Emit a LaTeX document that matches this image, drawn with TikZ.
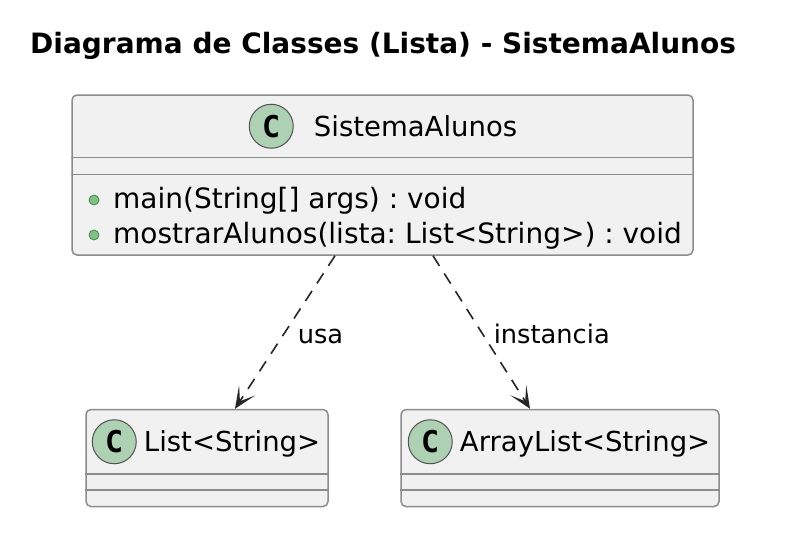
\documentclass[tikz,border=0pt]{standalone}
\usepackage{fontspec}
\setmainfont{DejaVu Sans}
\newfontfamily\badgefont{DejaVu Sans Mono}
\usetikzlibrary{positioning}
\usetikzlibrary{arrows.meta}
\definecolor{BoxFill}{HTML}{F1F1F1}
\definecolor{BoxLine}{HTML}{8C8C8C}
\definecolor{Badge}{HTML}{ADD1B2}
\definecolor{Dot}{HTML}{84BE84}
\definecolor{DotLine}{HTML}{3C8C4C}
\colorlet{Ink}{black!85}
\frenchspacing

\begin{document}
\begin{tikzpicture}[x=1pt, y=-1pt,
    classbox/.style={draw=BoxLine, fill=BoxFill, line width=1.5pt, rounded corners=5pt, inner sep=0pt},
    sepline/.style={draw=BoxLine, line width=1.5pt},
    badge/.style={circle, draw=Ink!80, line width=1pt, fill=Badge, minimum size=44pt, inner sep=0pt,
        font=\badgefont\bfseries\fontsize{30}{30}\selectfont},
    cname/.style={inner sep=0pt, text height=20pt, text depth=0pt, font=\fontsize{27.5}{33}\selectfont},
    member/.style={inner sep=0pt, anchor=base west, font=\fontsize{28}{33}\selectfont},
    dot/.style={circle, draw=DotLine, line width=0.8pt, fill=Dot, minimum size=10pt, inner sep=0pt},
    dep/.style={draw=Ink, line width=1.6pt, dash pattern=on 12pt off 9pt,
        -{Stealth[length=22pt, width=19pt, inset=13pt]}},
    elabel/.style={inner sep=0pt, anchor=west, text height=19pt, text depth=0pt,
        font=\fontsize{25.7}{30}\selectfont},
    node distance=153pt]
        \useasboundingbox (0,0) rectangle (786,554);

        % title
        \node[inner sep=0pt, anchor=base west, font=\bfseries\fontsize{28}{34}\selectfont] (title) at (30,53)
            {Diagrama de Classes (Lista) - SistemaAlunos};

        % class boxes
        \node[classbox, minimum width=621pt, minimum height=160pt] (main) at (382.5,175) {};
        \node[classbox, minimum width=242pt, minimum height=97pt, below=of main, xshift=-175.5pt] (list) {};
        \node[classbox, minimum width=318pt, minimum height=97pt, below=of main, xshift=177.5pt] (alist) {};

        % compartments
        \draw[sepline] ([yshift=-63pt]main.north west) -- ([yshift=-63pt]main.north east);
        \draw[sepline] ([yshift=-80pt]main.north west) -- ([yshift=-80pt]main.north east);
        \draw[sepline] ([yshift=-65pt]list.north west) -- ([yshift=-65pt]list.north east);
        \draw[sepline] ([yshift=-81pt]list.north west) -- ([yshift=-81pt]list.north east);
        \draw[sepline] ([yshift=-65pt]alist.north west) -- ([yshift=-65pt]alist.north east);
        \draw[sepline] ([yshift=-81pt]alist.north west) -- ([yshift=-81pt]alist.north east);

        % headers
        \node[badge] (mainC) at ([xshift=200pt, yshift=-32pt]main.north west) {C};
        \node[cname, right=20pt of mainC] (mainN) {SistemaAlunos};
        \node[badge] (listC) at ([xshift=29pt, yshift=-33pt]list.north west) {C};
        \node[cname, right=7pt of listC] (listN) {List<String>};
        \node[badge] (alistC) at ([xshift=30pt, yshift=-33pt]alist.north west) {C};
        \node[cname, right=7pt of alistC] (alistN) {ArrayList<String>};

        % methods
        \node[dot] (dotA) at (94,200) {};
        \node[member] (methA) at (113,208) {main(String[] args) : void};
        \node[dot] (dotB) at (94,235) {};
        \node[member] (methB) at (113,243) {mostrarAlunos(lista: List<String>) : void};

        % edges
        \draw[dep] ([xshift=-47.5pt]main.south) -- node[elabel, pos=0.51, xshift=13pt] (usaL) {usa}
            ([xshift=28pt]list.north);
        \draw[dep] ([xshift=50.5pt]main.south) -- node[elabel, pos=0.51, xshift=10.5pt] (instL) {instancia}
            ([xshift=-30pt]alist.north);
\end{tikzpicture}
\end{document}
